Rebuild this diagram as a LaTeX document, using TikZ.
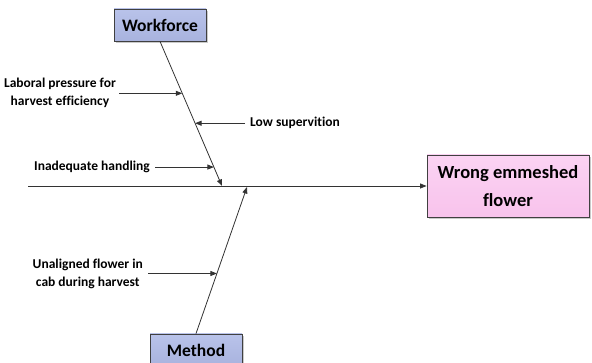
\documentclass[tikz,border=0pt]{standalone}
\usepackage{fontspec}
\setmainfont{Carlito}[Ligatures=NoCommon]
\usetikzlibrary{arrows.meta,calc,shadows}
\definecolor{boneline}{HTML}{333333}
\definecolor{catfill}{HTML}{A8B3DE}
\definecolor{catfilltop}{HTML}{B9C3EA}
\definecolor{effectfill}{HTML}{F8C3EC}
\definecolor{effectfilltop}{HTML}{FBD3F3}
\definecolor{boxborder}{HTML}{404040}
\tikzset{
  catbox/.style={draw=boxborder, line width=0.8pt, top color=catfilltop, bottom color=catfill,
    minimum width=92pt, minimum height=32pt, inner sep=0pt,
    font=\fontsize{17.5}{20}\selectfont\bfseries,
    drop shadow={shadow xshift=2pt, shadow yshift=-2pt, fill=black!35, opacity=0.6}},
  effectbox/.style={draw=boxborder, line width=0.8pt, top color=effectfilltop, bottom color=effectfill,
    minimum width=162pt, minimum height=62pt, inner sep=0pt, align=center,
    font=\fontsize{18.5}{28}\selectfont\bfseries,
    drop shadow={shadow xshift=2pt, shadow yshift=-2pt, fill=black!35, opacity=0.6}},
  causelabel/.style={align=center, inner sep=0pt, font=\fontsize{13.5}{18}\selectfont\bfseries},
  bone/.style={draw=boneline, line width=0.8pt, -{Triangle[length=6.5pt,width=5pt]}},
  spine/.style={draw=boneline, line width=0.8pt, -{Triangle[length=6.5pt,width=5pt]}},
}
\begin{document}
\begin{tikzpicture}[x=1pt,y=-1pt]
  \useasboundingbox (0,0) rectangle (592,363);

  % category boxes and effect box
  \node[catbox] (wf) at (160,25) {Workforce};
  \node[catbox] (me) at (196,350) {Method};
  \node[effectbox] (ef) at (508,186) {Wrong emmeshed\\flower};

  % spine
  \coordinate (tail) at (28,186);
  \draw[spine] (tail) -- (tail -| ef.west);

  % main bones
  \coordinate (wtip) at (222,186);
  \coordinate (mtip) at (247,187);
  \draw[bone] (wf.south) -- (wtip);
  \draw[bone] (me.north) -- (mtip);

  % points on the bones where causes attach
  \coordinate (p1) at ($(wf.south)!0.359!(wtip)$);
  \coordinate (p2) at ($(wf.south)!0.566!(wtip)$);
  \coordinate (p3) at ($(wf.south)!0.869!(wtip)$);
  \coordinate (p4) at ($(me.north)!0.41!(mtip)$);

  % cause labels
  \node[causelabel, anchor=east] (c1) at (p1 -| 116,0) {Laboral pressure for\\harvest efficiency};
  \node[causelabel, anchor=west] (c2) at (p2 -| 250,0) {Low supervition};
  \node[causelabel, anchor=east] (c3) at (p3 -| 150,0) {Inadequate handling};
  \node[causelabel, anchor=east] (c4) at (p4 -| 143,0) {Unaligned flower in\\cab during harvest};

  % cause arrows
  \draw[bone] ($(c1.east)+(3,0)$) -- (p1);
  \draw[bone] ($(c2.west)+(-5,0)$) -- (p2);
  \draw[bone] ($(c3.east)+(5,0)$) -- (p3);
  \draw[bone] ($(c4.east)+(5,0)$) -- (p4);
\end{tikzpicture}
\end{document}
